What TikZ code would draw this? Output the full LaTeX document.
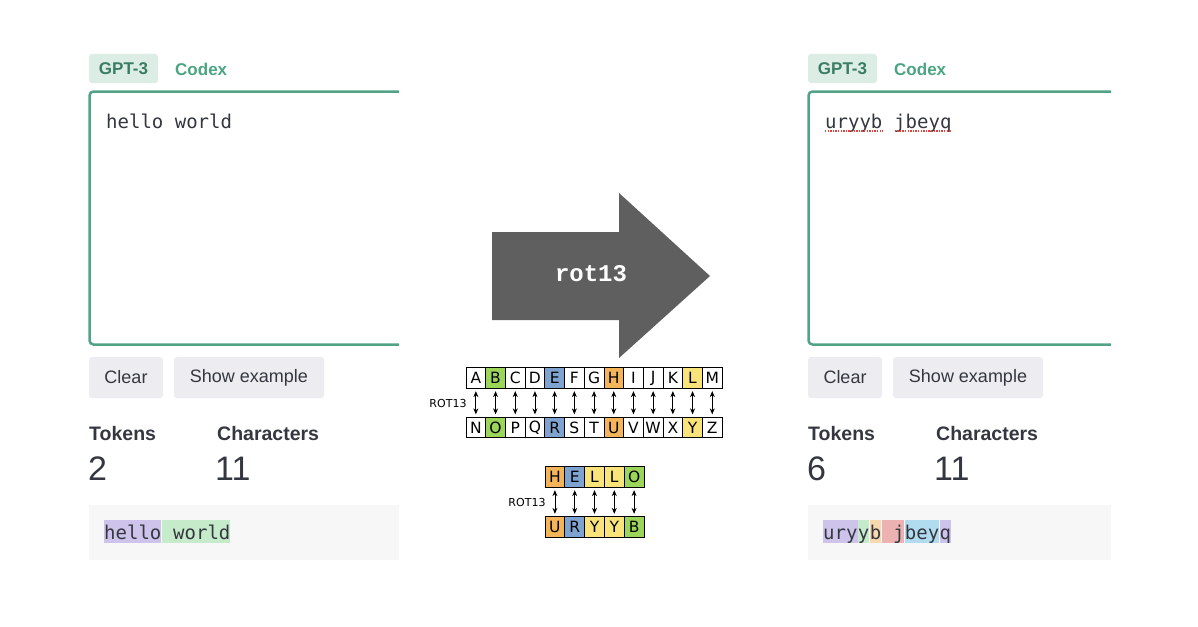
\documentclass[tikz,border=0pt]{standalone}
\usepackage{fontspec}
\setmainfont{Liberation Sans}
\newfontfamily\codefont{DejaVu Sans Mono}
\newfontfamily\courfont{Liberation Mono}
\newfontfamily\gridfont{DejaVu Sans}
\usetikzlibrary{arrows.meta}
\definecolor{tabbg}{HTML}{DCEDE5}
\definecolor{tabtxt}{HTML}{3B7D64}
\definecolor{linktxt}{HTML}{4BA582}
\definecolor{boxgreen}{HTML}{52A385}
\definecolor{ink}{HTML}{353740}
\definecolor{btnbg}{HTML}{ECECF1}
\definecolor{tokbg}{HTML}{F7F7F8}
\definecolor{tpurple}{HTML}{CEC4EB}
\definecolor{tgreen}{HTML}{C6EBCB}
\definecolor{torange}{HTML}{F6DAAE}
\definecolor{tred}{HTML}{EBB2B1}
\definecolor{tblue}{HTML}{B1DCF0}
\definecolor{arrowgray}{HTML}{5F5F5F}
\definecolor{cg}{HTML}{9BD65B}
\definecolor{cb}{HTML}{7FA3D0}
\definecolor{co}{HTML}{F4B45A}
\definecolor{cy}{HTML}{F8E47A}
\definecolor{spellred}{HTML}{E8403A}
\tikzset{
 tabbox/.style={fill=tabbg, rounded corners=3pt, minimum width=69pt, minimum height=29pt, inner sep=0pt, text=tabtxt, font=\bfseries\fontsize{17}{20}\selectfont},
 tablink/.style={text=linktxt, font=\bfseries\fontsize{17}{20}\selectfont, anchor=west, inner sep=0pt},
 editbox/.style={draw=boxgreen, line width=2.5pt, rounded corners=4pt},
 codetext/.style={font=\codefont\fontsize{19}{22}\selectfont, text=ink, inner sep=0pt},
 btn/.style={fill=btnbg, rounded corners=3pt, minimum height=41pt, inner sep=0pt, text=ink, font=\fontsize{18}{21}\selectfont},
 stathead/.style={font=\bfseries\fontsize{19.5}{23}\selectfont, text=ink, anchor=base west, inner sep=0pt},
 statnum/.style={font=\fontsize{34}{40}\selectfont, text=ink, anchor=base west, inner sep=0pt},
 tokarea/.style={fill=tokbg},
 tok/.style={fill=#1, codetext, text height=19pt, text depth=4pt, anchor=base west, inner sep=0pt},
 cell/.style={draw=black, line width=0.8pt, minimum width=19.7pt, minimum height=20.5pt, inner sep=0pt, font=\gridfont\fontsize{15.5}{17}\selectfont},
 swap/.style={{Stealth[length=6pt,width=5pt]}-{Stealth[length=6pt,width=5pt]}, line width=0.8pt, shorten >=2.5pt, shorten <=2.5pt},
 rotlabel/.style={font=\gridfont\fontsize{11}{13}\selectfont, inner sep=0pt},
 spell/.style={draw=spellred, line width=1.4pt, dash pattern=on 1.3pt off 1.3pt},
}
\begin{document}
\begin{tikzpicture}[x=1pt,y=-1pt]
\useasboundingbox[fill=white] (0,0) rectangle (1198,626);

% ---------------- left panel ----------------
\node[tabbox] (Lgpt) at (123.5,68.5) {GPT-3};
\node[tablink] (Lcodex) at (175,69) {Codex};
\draw[editbox] (399,91.5) -| (89.5,344.5) -- (399,344.5);
\node[codetext, anchor=base west] (Linput) at (106,128) {hello world};
\node[btn, minimum width=74pt] (Lclear) at (126,377.5) {Clear};
\node[btn, minimum width=150pt] (Lshow) at (249,377.5) {Show example};
\node[stathead] (Ltokh) at (89,440) {Tokens};
\node[stathead] (Lcharh) at (217,440) {Characters};
\node[statnum] (Ltokn) at (88,480) {2};
\node[statnum] (Lcharn) at (215,480) {11};
\fill[tokarea] (89,505) rectangle (399,560);
\node[tok=tpurple] (Lt1) at (104,539) {hello};
\node[tok=tgreen] (Lt2) at (Lt1.base east) {\ world};

% ---------------- right panel ----------------
\node[tabbox] (Rgpt) at (842.5,68.5) {GPT-3};
\node[tablink] (Rcodex) at (894,69) {Codex};
\draw[editbox] (1111,91.5) -| (808.5,344.5) -- (1111,344.5);
\node[codetext, anchor=base west] (Rw1) at (825,128) {uryyb};
\node[codetext, anchor=base west] (Rw2) at (Rw1.base east) {\ jbeyq};
\draw[spell] ([yshift=-3pt]Rw1.base west) -- ([yshift=-3pt]Rw1.base east);
\draw[spell] ([xshift=12pt,yshift=-3pt]Rw2.base west) -- ([yshift=-3pt]Rw2.base east);
\node[btn, minimum width=74pt] (Rclear) at (845,377.5) {Clear};
\node[btn, minimum width=150pt] (Rshow) at (968,377.5) {Show example};
\node[stathead] (Rtokh) at (808,440) {Tokens};
\node[stathead] (Rcharh) at (936,440) {Characters};
\node[statnum] (Rtokn) at (807,480) {6};
\node[statnum] (Rcharn) at (934,480) {11};
\fill[tokarea] (808,505) rectangle (1111,560);
\node[tok=tpurple] (Rt1) at (823,539) {ury};
\node[tok=tgreen] (Rt2) at (Rt1.base east) {y};
\node[tok=torange] (Rt3) at (Rt2.base east) {b};
\node[tok=tred] (Rt4) at (Rt3.base east) {\ j};
\node[tok=tblue] (Rt5) at (Rt4.base east) {bey};
\node[tok=tpurple] (Rt6) at (Rt5.base east) {q};

% ---------------- central arrow ----------------
\fill[arrowgray] (492,232) -- (619,232) -- (619,193) -- (710,276) -- (619,358) -- (619,320) -- (492,320) -- cycle;
\node[text=white, font=\courfont\bfseries\fontsize{24}{26}\selectfont, inner sep=0pt] (rot) at (591,274) {rot13};

% ---------------- alphabet table ----------------
\foreach \l/\c [count=\i from 0] in {A/white,B/cg,C/white,D/white,E/cb,F/white,G/white,H/co,I/white,J/white,K/white,L/cy,M/white}
  \node[cell, fill=\c] (top\i) at ({466+19.7*(\i+0.5)},378) {\l};
\foreach \l/\c [count=\i from 0] in {N/white,O/cg,P/white,Q/white,R/cb,S/white,T/white,U/co,V/white,W/white,X/white,Y/cy,Z/white}
  \node[cell, fill=\c] (bot\i) at ({466+19.7*(\i+0.5)},427.5) {\l};
\foreach \i in {0,...,12}
  \draw[swap] (top\i) -- (bot\i);
\node[rotlabel] (rotA) at (448,403) {ROT13};

% ---------------- HELLO example ----------------
\foreach \l/\c [count=\i from 0] in {H/co,E/cb,L/cy,L/cy,O/cg}
  \node[cell, minimum width=19.8pt, fill=\c] (h\i) at ({545+19.8*(\i+0.5)},477) {\l};
\foreach \l/\c [count=\i from 0] in {U/co,R/cb,Y/cy,Y/cy,B/cg}
  \node[cell, minimum width=19.8pt, fill=\c] (u\i) at ({545+19.8*(\i+0.5)},527) {\l};
\foreach \i in {0,...,4}
  \draw[swap] (h\i) -- (u\i);
\node[rotlabel] (rotB) at (527,502) {ROT13};
\end{tikzpicture}
\end{document}
